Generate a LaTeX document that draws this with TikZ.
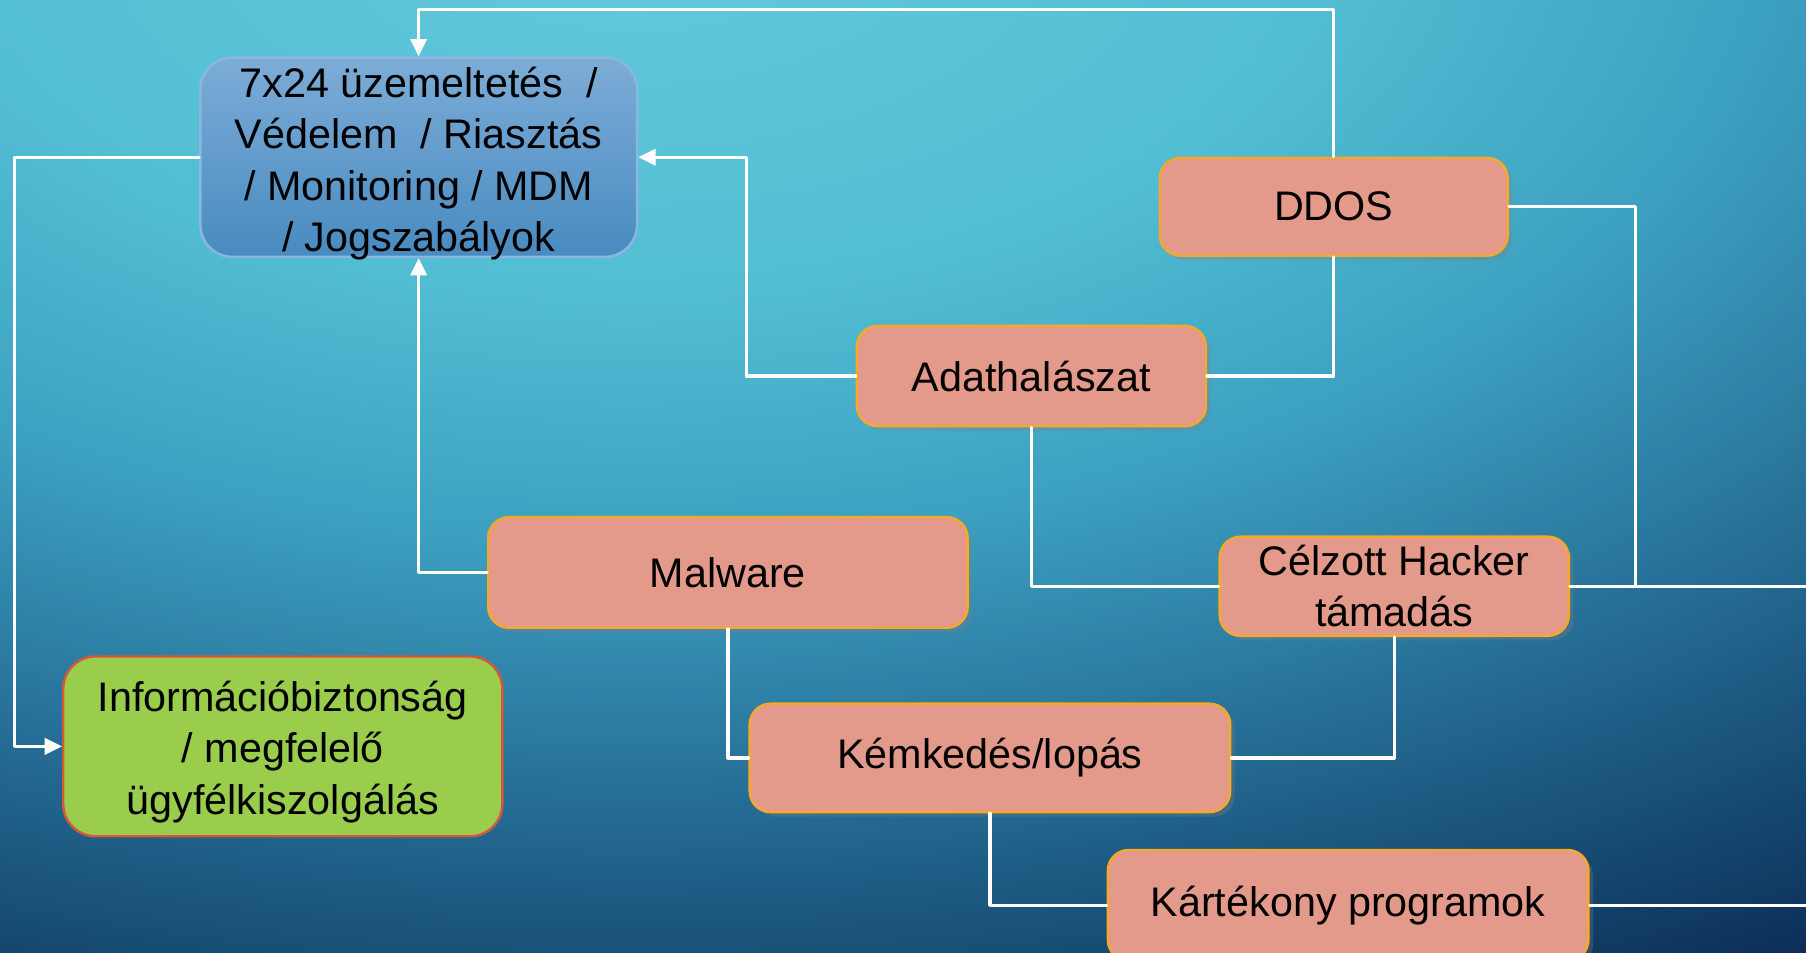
\documentclass[tikz,border=0pt]{standalone}
\usepackage{fontspec}
\setmainfont{Liberation Sans}
\usetikzlibrary{arrows.meta, calc, positioning, shadows}
\definecolor{glowA}{RGB}{102,202,220}
\definecolor{glowB}{RGB}{82,190,212}
\definecolor{glowC}{RGB}{60,160,192}
\definecolor{glowD}{RGB}{38,110,150}
\definecolor{glowE}{RGB}{22,75,115}
\definecolor{glowF}{RGB}{10,38,82}
\definecolor{salmonfill}{RGB}{227,154,139}
\definecolor{orangeedge}{RGB}{246,168,40}
\definecolor{bluetop}{RGB}{125,172,215}
\definecolor{bluebottom}{RGB}{72,139,192}
\definecolor{blueedge}{RGB}{140,182,226}
\definecolor{limefill}{RGB}{155,205,76}
\definecolor{rededge}{RGB}{214,88,58}
\pgfdeclareradialshading{seaglow}{\pgfpoint{0bp}{0bp}}{color(0bp)=(glowA); color(7.5bp)=(glowB); color(12.5bp)=(glowC); color(17.5bp)=(glowD); color(21.25bp)=(glowE); color(25bp)=(glowF); color(50bp)=(glowF)}
\newcommand{\toplift}[1]{\rule{0pt}{#1}}
\newcommand{\nodepth}[1]{\raisebox{0pt}[\height][0pt]{#1}}

\begin{document}
\begin{tikzpicture}[x=0.01cm, y=-0.01cm, line cap=round, line join=round, >={Triangle[width=0.14cm,length=0.15cm]},
    box/.style={rounded corners=0.18cm, align=center, inner sep=0pt, line width=0.6pt, font=\fontsize{10.2}{12.7}\selectfont},
    threat/.style={box, draw=orangeedge, fill=salmonfill, drop shadow={shadow xshift=0.04cm, shadow yshift=-0.04cm, opacity=0.3}},
    link/.style={white, line width=0.8pt}]
		% background
		\useasboundingbox (0,0) rectangle (1568,827);
		\begin{scope}
			\clip (0,0) rectangle (1568,827);
			\shade [shading=seaglow] (550,-80) ellipse [x radius=20cm, y radius=11cm];
		\end{scope}

		% boxes
		\node [box, draw=blueedge, top color=bluetop, bottom color=bluebottom, rounded corners=0.28cm, minimum width=3.79cm, minimum height=1.73cm] (ops) at (363.5,136.5) {\toplift{8.6pt}7x24 üzemeltetés \ /\\Védelem \ / Riasztás\\/ Monitoring / MDM\\\nodepth{/ Jogszabályok}};
		\node [box, draw=rededge, fill=limefill, rounded corners=0.28cm, minimum width=3.81cm, minimum height=1.56cm] (info) at (245.5,648) {\toplift{10.2pt}Információbiztonság\\/ megfelelő\\ügyfélkiszolgálás};
		\node [threat, minimum width=3.02cm, minimum height=0.85cm] (ddos) at (1158,179.5) {DDOS};
		\node [threat, minimum width=3.03cm, minimum height=0.87cm] (phish) at (895.5,326.5) {Adathalászat};
		\node [threat, minimum width=4.16cm, minimum height=0.96cm] (malware) at (632,497) {Malware};
		\node [threat, minimum width=3.03cm, minimum height=0.86cm] (hack) at (1210.5,509) {Célzott Hacker\\támadás};
		\node [threat, minimum width=4.17cm, minimum height=0.94cm] (spy) at (859.5,658) {Kémkedés/lopás};
		\node [threat, minimum width=4.17cm, minimum height=0.96cm] (damage) at (1170.5,786) {Kártékony programok};

		% connectors
		\coordinate (toprail) at (363.5,8);
		\coordinate (hackbend) at (1420,509);
		\coordinate (eastedge) at (1568,0);
		\draw [link,->] (ddos.north) |- (toprail) -- (ops.north);
		\draw [link] (ddos.south) |- (phish.east);
		\draw [link] (ddos.east) -| (hackbend) -- (hack.east);
		\draw [link] (hack.east) -- (hack.east -| eastedge);
		\draw [link,->] (phish.west) -- ++(-95,0) |- (ops.east);
		\draw [link] (phish.south) |- (hack.west);
		\draw [link,->] (malware.west) -| (ops.south);
		\draw [link] (malware.south) |- (spy.west);
		\draw [link] (hack.south) |- (spy.east);
		\draw [link] (spy.south) |- (damage.west);
		\draw [link] (damage.east) -- (damage.east -| eastedge);
		\draw [link,->] (ops.west) -- ++(-160,0) |- (info.west);
\end{tikzpicture}
\end{document}
